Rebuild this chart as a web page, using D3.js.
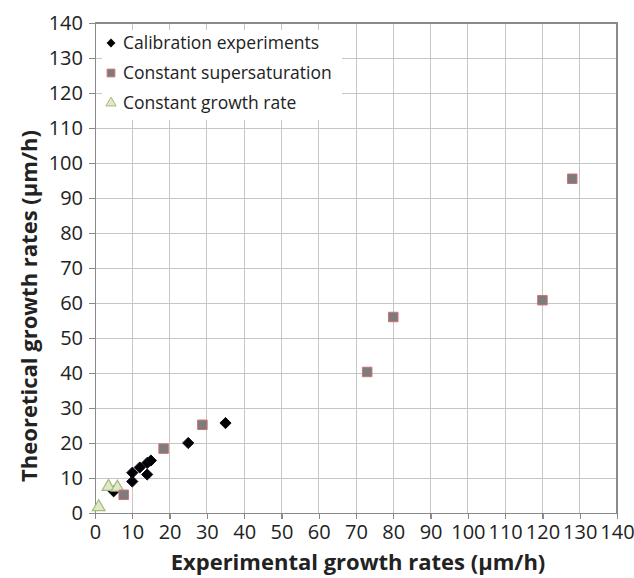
<!DOCTYPE html>
<html lang="en">
<head>
	<title>Growth rates</title>
	<meta charset="utf-8">
	<script src="https://d3js.org/d3.v7.min.js"></script>
	<style type="text/css">
		body {
			margin: 0;
			background: #fff;
			font-family: "Open Sans", sans-serif;
		}

		.grid line {
			stroke: #c6c6c6;
			stroke-width: 1;
			shape-rendering: crispEdges;
		}

		.axis path,
		.axis line {
			stroke: #8a8a8a;
			stroke-width: 1.3;
			shape-rendering: crispEdges;
		}

		.axis text {
			font-family: "Open Sans", sans-serif;
			font-size: 20px;
			fill: #222;
		}

		.title {
			font-family: "Open Sans", sans-serif;
			font-size: 22px;
			font-weight: bold;
			fill: #222;
		}

		.legend text {
			font-family: "Open Sans", sans-serif;
			font-size: 17.5px;
			fill: #222;
		}
	</style>
</head>
<body>
	<div id="vis"></div>
	<script type="text/javascript">

		/* Data */
		/* ==== */

		// experimental (x) vs theoretical (y), µm/h
		const calibX = [10, 10, 12, 14, 14, 15, 25, 35, 5];
		const calibY = [9, 11.5, 13, 11, 14.3, 15, 20, 25.7, 6.2];

		const supersatX = [7.7, 18.4, 28.8, 73, 80, 120, 128];
		const supersatY = [5.2, 18.4, 25.2, 40.3, 56, 60.8, 95.5];

		const growthX = [1, 3.6, 6];
		const growthY = [1.7, 7.5, 7.3];

		const seriesNames = ['Calibration experiments', 'Constant supersaturation', 'Constant growth rate'];
		const tickValues = d3.range(0, 141, 10);


		/* Set up */
		/* ====== */

		const width = 634, height = 578;
		const margin = { top: 23, left: 95, right: 17, bottom: 65 };
		const w = width - margin.left - margin.right;
		const h = height - margin.top - margin.bottom;

		const svg = d3.select('#vis')
			.append('svg')
			.attr('width', width)
			.attr('height', height);

		const g = svg.append('g')
			.attr('transform', 'translate(' + margin.left + ',' + margin.top + ')');

		const x = d3.scaleLinear().domain([0, 140]).range([0, w]);
		const y = d3.scaleLinear().domain([0, 140]).range([h, 0]);

		/* Grid */
		const grid = g.append('g').attr('class', 'grid');
		grid.selectAll('.gx').data(tickValues.slice(1)).enter()
			.append('line')
			.attr('x1', d => x(d)).attr('x2', d => x(d))
			.attr('y1', 0).attr('y2', h);
		grid.selectAll('.gy').data(tickValues.slice(1)).enter()
			.append('line')
			.attr('y1', d => y(d)).attr('y2', d => y(d))
			.attr('x1', 0).attr('x2', w);

		// right and top frame of the plot area
		g.append('g').attr('class', 'axis')
			.append('path')
			.attr('fill', 'none')
			.attr('d', 'M' + 0 + ',' + 0 + 'H' + w + 'V' + h);

		/* Axes */
		g.append('g')
			.attr('class', 'axis')
			.attr('transform', 'translate(0,' + h + ')')
			.call(d3.axisBottom(x).tickValues(tickValues).tickSize(6).tickSizeOuter(0).tickPadding(6));

		g.append('g')
			.attr('class', 'axis')
			.call(d3.axisLeft(y).tickValues(tickValues).tickSize(6).tickSizeOuter(0).tickPadding(6));

		g.append('text')
			.attr('class', 'title')
			.attr('text-anchor', 'middle')
			.attr('x', w / 2 + 2)
			.attr('y', h + 57)
			.text('Experimental growth rates (µm/h)');

		g.append('text')
			.attr('class', 'title')
			.attr('text-anchor', 'middle')
			.attr('transform', 'translate(' + (-58) + ',' + (h / 2 + 38) + ') rotate(-90)')
			.text('Theoretical growth rates (µm/h)');


		/* Marker shapes */
		/* ============= */

		const diamond = d3.symbol().type(d3.symbolDiamond2).size(80);
		const square = d3.symbol().type(d3.symbolSquare).size(90);
		const triangle = d3.symbol().type(d3.symbolTriangle).size(70);

		function drawDiamond(sel) {
			sel.attr('d', diamond).attr('fill', '#000').attr('stroke', '#0a0a20').attr('stroke-width', 1);
		}
		function drawSquare(sel) {
			sel.attr('d', square).attr('fill', '#7c7c7c').attr('stroke', '#d07070').attr('stroke-width', 1);
		}
		function drawTriangle(sel) {
			sel.attr('d', triangle).attr('fill', '#dfe8c8').attr('stroke', '#a7b97a').attr('stroke-width', 1.2);
		}


		/* Points */
		/* ====== */

		const pts = g.append('g');

		pts.selectAll('.calib').data(calibX).enter()
			.append('path')
			.attr('transform', (d, i) => 'translate(' + x(d) + ',' + y(calibY[i]) + ')')
			.call(drawDiamond);

		pts.selectAll('.growth').data(growthX).enter()
			.append('path')
			.attr('transform', (d, i) => 'translate(' + x(d) + ',' + y(growthY[i]) + ')')
			.call(drawTriangle);

		pts.selectAll('.supersat').data(supersatX).enter()
			.append('path')
			.attr('transform', (d, i) => 'translate(' + x(d) + ',' + y(supersatY[i]) + ')')
			.call(drawSquare);


		/* Legend */
		/* ====== */

		const legend = g.append('g').attr('class', 'legend')
			.attr('transform', 'translate(7,7)');

		legend.append('rect')
			.attr('width', 240).attr('height', 90)
			.attr('fill', '#fff');

		const rows = legend.selectAll('.row').data(seriesNames).enter()
			.append('g')
			.attr('transform', (d, i) => 'translate(0,' + (13 + i * 30) + ')');

		rows.append('path')
			.attr('transform', 'translate(9,0)')
			.each(function (d, i) {
				const p = d3.select(this);
				if (i === 0) p.attr('d', d3.symbol().type(d3.symbolDiamond2).size(50)).attr('fill', '#000');
				if (i === 1) p.attr('d', d3.symbol().type(d3.symbolSquare).size(60)).attr('fill', '#7c7c7c').attr('stroke', '#d07070');
				if (i === 2) p.attr('d', d3.symbol().type(d3.symbolTriangle).size(45)).attr('fill', '#dfe8c8').attr('stroke', '#a7b97a');
			});

		rows.append('text')
			.attr('x', 21)
			.attr('dy', '0.35em')
			.text(d => d);

	</script>
</body>
</html>
